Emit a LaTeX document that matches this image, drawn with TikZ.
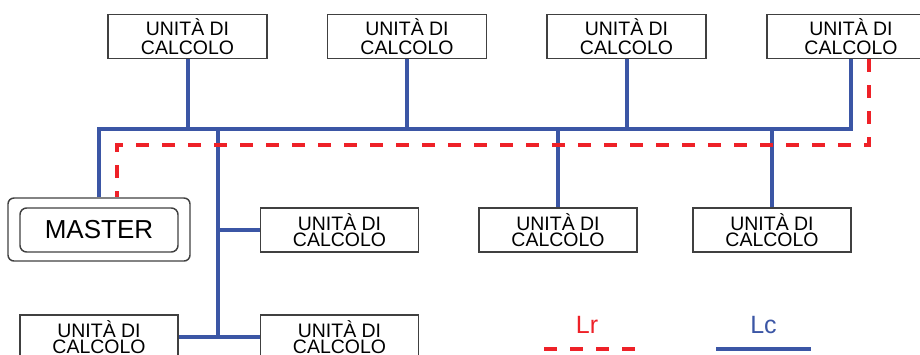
\documentclass[tikz,border=0pt]{standalone}
\usepackage{fontspec}
\setmainfont{Liberation Sans}
\definecolor{lcblue}{HTML}{3B56A5}
\definecolor{lrred}{HTML}{EE2128}
\definecolor{boxgray}{HTML}{404040}
\begin{document}
\begin{tikzpicture}[x=0.75pt,y=-0.75pt,
  unitbase/.style={draw=boxgray, line width=1.1pt, minimum height=33pt, inner sep=0pt, align=center, fill=white},
  unittop/.style={unitbase, minimum width=119.25pt, font=\fontsize{14.6}{14.25}\selectfont},
  unitlow/.style={unitbase, minimum width=118.5pt, font=\fontsize{14.6}{12}\selectfont},
  bline/.style={draw=lcblue, line width=3pt},
  rline/.style={draw=lrred, line width=3pt, dash pattern=on 9.75pt off 9.75pt},
  legtext/.style={font=\fontsize{18.75}{20}\selectfont, anchor=base, inner sep=0pt}]
\useasboundingbox (0,0) rectangle (920,354);
% top units
\node[unittop] (u1) at (187.5,36.5) {UNITÀ DI\\CALCOLO};
\node[unittop] (u2) at (407,36.5) {UNITÀ DI\\CALCOLO};
\node[unittop] (u3) at (626.5,36.5) {UNITÀ DI\\CALCOLO};
\node[unittop, minimum width=126pt] (u4) at (851,36.5) {UNITÀ DI\\CALCOLO};
% middle units
\node[unitlow] (m1) at (339.5,230) {UNITÀ DI\\CALCOLO};
\node[unitlow] (m2) at (558,230) {UNITÀ DI\\CALCOLO};
\node[unitlow] (m3) at (772,230) {UNITÀ DI\\CALCOLO};
% bottom units
\node[unitlow] (b1) at (99,337) {UNITÀ DI\\CALCOLO};
\node[unitlow] (b2) at (339.5,337) {UNITÀ DI\\CALCOLO};
% master
\node[draw=boxgray, line width=1.1pt, rounded corners=4.5pt, minimum width=136.5pt, minimum height=47.25pt, inner sep=0pt] (master) at (99,229.5) {};
\node[draw=boxgray, line width=1.1pt, rounded corners=5pt, minimum width=118.5pt, minimum height=33pt, inner sep=0pt, font=\fontsize{19.5}{20}\selectfont] (masterin) at (99,230) {MASTER};
% blue network
\coordinate (busL) at (99,129);
\coordinate (tj) at (218,129);
\coordinate (bj) at (218,337);
\draw[bline] (master.north) -- (busL) -| (u4.south);
\draw[bline] (u1.south) -- (u1.south |- busL);
\draw[bline] (u2.south) -- (u2.south |- busL);
\draw[bline] (u3.south) -- (u3.south |- busL);
\draw[bline] (m2.north) -- (m2.north |- busL);
\draw[bline] (m3.north) -- (m3.north |- busL);
\draw[bline] (tj) -- (bj);
\draw[bline] (m1.west) -- (m1.west -| tj);
\draw[bline] (b1.east) -- (b2.west);
% red ring
\coordinate (rc) at (117,145);
\draw[rline] ([xshift=13.5pt]u4.south) |- (rc) -- (rc |- master.north);
% legend
\node[legtext, text=lrred] (lr) at (587,333) {Lr};
\node[legtext, text=lcblue] (lc) at (763.5,333) {Lc};
\coordinate (lra) at (544,349);
\coordinate (lrb) at (636,349);
\coordinate (lca) at (716,349);
\coordinate (lcb) at (811,349);
\draw[rline] (lra) -- (lrb);
\draw[bline] (lca) -- (lcb);
\end{tikzpicture}
\end{document}
